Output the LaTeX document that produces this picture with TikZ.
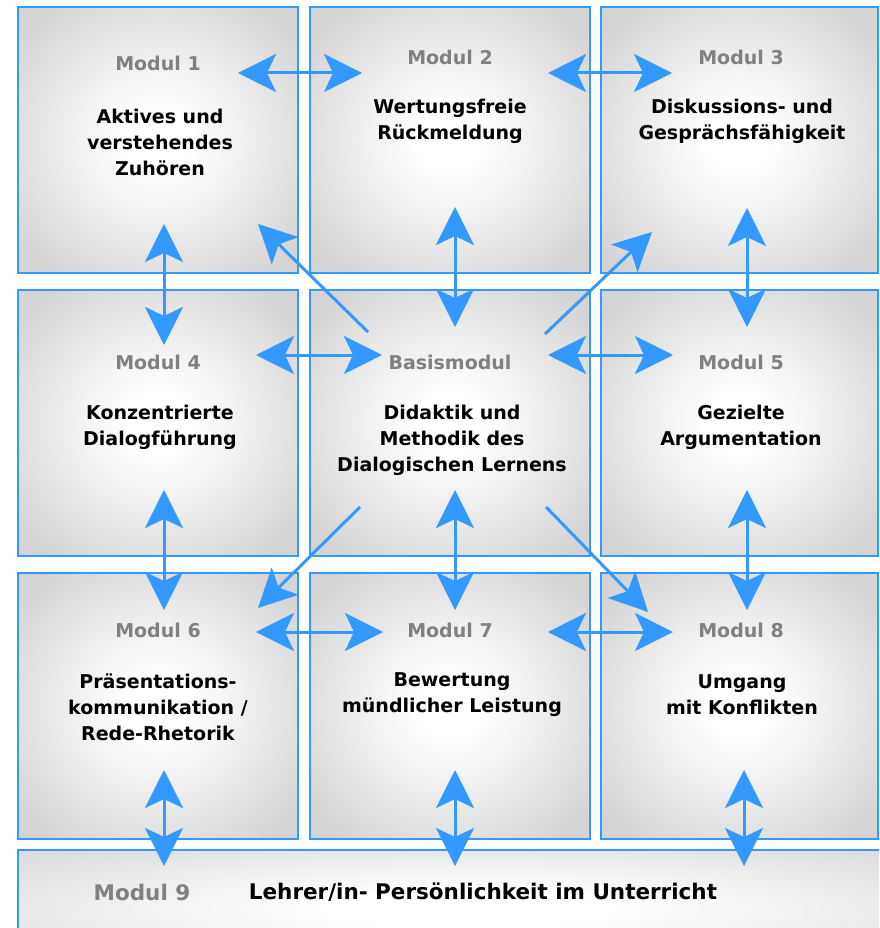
\documentclass[tikz,border=0pt]{standalone}
\usepackage{fontspec}
\setmainfont{DejaVu Sans}
\usetikzlibrary{arrows.meta}
\definecolor{arrowblue}{RGB}{51,153,255}
\definecolor{boxgray}{RGB}{212,212,212}
\definecolor{labelgray}{RGB}{128,128,128}
\pgfdeclareradialshading{boxshade}{\pgfpoint{0bp}{0bp}}{color(0bp)=(white); color(6bp)=(white); color(32bp)=(boxgray); color(100bp)=(boxgray)}
\pgfdeclareradialshading{barshade}{\pgfpoint{0bp}{0bp}}{color(0bp)=(white); color(8bp)=(white); color(40bp)=(boxgray); color(100bp)=(boxgray)}
\tikzset{
  box/.style={draw=arrowblue, line width=1.5pt, shading=boxshade, minimum height=266pt, inner sep=0pt, outer sep=0pt},
  modlabel/.style={text=labelgray, font=\fontsize{19}{26}\selectfont\bfseries, inner sep=0pt},
  modtext/.style={text=black, font=\fontsize{19}{26}\selectfont\bfseries, align=center, inner sep=0pt},
  barlabel/.style={text=labelgray, font=\fontsize{21.5}{26}\selectfont\bfseries, inner sep=0pt},
  bartext/.style={text=black, font=\fontsize{21.5}{26}\selectfont\bfseries, inner sep=0pt},
  dblarrow/.style={draw=arrowblue, line width=3pt, {Stealth[length=38pt,width=38pt,inset=9pt]}-{Stealth[length=38pt,width=38pt,inset=9pt]}},
  sglarrow/.style={draw=arrowblue, line width=3pt, -{Stealth[length=38pt,width=38pt,inset=9pt]}}
}
\begin{document}
\begin{tikzpicture}[x=1pt,y=-1pt]
\useasboundingbox (0,0) rectangle (879,928);
\clip (0,0) rectangle (879,928);
% boxes
\node[box, minimum width=280pt] (m1) at (158,140) {};
\node[box, minimum width=280pt] (m2) at (450,140) {};
\node[box, minimum width=277pt] (m3) at (739.5,140) {};
\node[box, minimum width=280pt] (m4) at (158,423) {};
\node[box, minimum width=280pt] (mb) at (450,423) {};
\node[box, minimum width=277pt] (m5) at (739.5,423) {};
\node[box, minimum width=280pt] (m6) at (158,706) {};
\node[box, minimum width=280pt] (m7) at (450,706) {};
\node[box, minimum width=277pt] (m8) at (739.5,706) {};
\node[draw=arrowblue, line width=1.5pt, shading=barshade, minimum width=900pt, minimum height=120pt, inner sep=0pt] (m9) at (468,910) {};
% labels
\node[modlabel] (l1) at (158,63) {Modul 1};
\node[modlabel] (l2) at (450,57) {Modul 2};
\node[modlabel] (l3) at (741,57) {Modul 3};
\node[modlabel] (l4) at (158,362) {Modul 4};
\node[modlabel] (lb) at (450,362) {Basismodul};
\node[modlabel] (l5) at (741,362) {Modul 5};
\node[modlabel] (l6) at (158,630) {Modul 6};
\node[modlabel] (l7) at (450,630) {Modul 7};
\node[modlabel] (l8) at (741,630) {Modul 8};
\node[barlabel] (l9) at (142,892) {Modul 9};
% texts
\node[modtext] (t1) at (160,142) {Aktives und\\verstehendes\\Zuhören};
\node[modtext] (t2) at (450,121) {Wertungsfreie\\Rückmeldung};
\node[modtext] (t3) at (742,121) {Diskussions- und\\Gesprächsfähigkeit};
\node[modtext] (t4) at (160,427) {Konzentrierte\\Dialogführung};
\node[modtext] (tb) at (452,440) {Didaktik und\\Methodik des\\Dialogischen Lernens};
\node[modtext] (t5) at (741,427) {Gezielte\\Argumentation};
\node[modtext] (t6) at (158,707) {Präsentations-\\kommunikation /\\Rede-Rhetorik};
\node[modtext] (t7) at (452,695) {Bewertung\\mündlicher Leistung};
\node[modtext] (t8) at (742,695) {Umgang\\mit Konflikten};
\node[bartext] (t9) at (483,892) {Lehrer/in- Persönlichkeit im Unterricht};
% arrow end points
\coordinate (h12a) at (238,73);  \coordinate (h12b) at (362,73);
\coordinate (h23a) at (548,73);  \coordinate (h23b) at (672,73);
\coordinate (h4ba) at (256,355); \coordinate (h4bb) at (382,355);
\coordinate (hb5a) at (548,355); \coordinate (hb5b) at (673,355);
\coordinate (h67a) at (256,632); \coordinate (h67b) at (383,632);
\coordinate (h78a) at (548,632); \coordinate (h78b) at (673,632);
\coordinate (v14a) at (164,224); \coordinate (v14b) at (164,345);
\coordinate (v2ba) at (455,207); \coordinate (v2bb) at (455,327);
\coordinate (v35a) at (747,208); \coordinate (v35b) at (747,327);
\coordinate (v46a) at (164,490); \coordinate (v46b) at (164,610);
\coordinate (vb7a) at (455,490); \coordinate (vb7b) at (455,610);
\coordinate (v58a) at (747,490); \coordinate (v58b) at (747,610);
\coordinate (v69a) at (164,770); \coordinate (v69b) at (164,866);
\coordinate (v79a) at (455,770); \coordinate (v79b) at (455,866);
\coordinate (v89a) at (744,770); \coordinate (v89b) at (744,866);
\coordinate (d1a) at (368,332); \coordinate (d1b) at (258,224);
\coordinate (d3a) at (545,334); \coordinate (d3b) at (652,232);
\coordinate (d6a) at (360,507); \coordinate (d6b) at (258,608);
\coordinate (d8a) at (546,507); \coordinate (d8b) at (648,612);
% arrows
\draw[dblarrow] (h12a) -- (h12b);
\draw[dblarrow] (h23a) -- (h23b);
\draw[dblarrow] (h4ba) -- (h4bb);
\draw[dblarrow] (hb5a) -- (hb5b);
\draw[dblarrow] (h67a) -- (h67b);
\draw[dblarrow] (h78a) -- (h78b);
\draw[dblarrow] (v14a) -- (v14b);
\draw[dblarrow] (v2ba) -- (v2bb);
\draw[dblarrow] (v35a) -- (v35b);
\draw[dblarrow] (v46a) -- (v46b);
\draw[dblarrow] (vb7a) -- (vb7b);
\draw[dblarrow] (v58a) -- (v58b);
\draw[dblarrow] (v69a) -- (v69b);
\draw[dblarrow] (v79a) -- (v79b);
\draw[dblarrow] (v89a) -- (v89b);
\draw[sglarrow] (d1a) -- (d1b);
\draw[sglarrow] (d3a) -- (d3b);
\draw[sglarrow] (d6a) -- (d6b);
\draw[sglarrow] (d8a) -- (d8b);
\end{tikzpicture}
\end{document}
